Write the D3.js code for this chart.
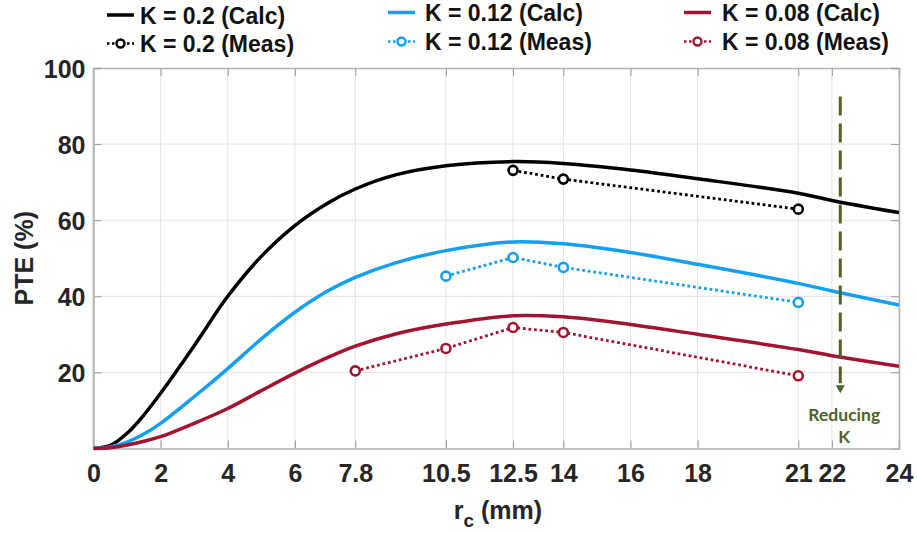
<!DOCTYPE html>
<html>
<head>
<meta charset="utf-8">
<script src="https://cdn.jsdelivr.net/npm/d3@7"></script>
<style>
html,body{margin:0;padding:0;background:#fff;}
svg{display:block;font-family:"Liberation Sans",Arial,sans-serif;}
</style>
</head>
<body>
<svg id="chart" width="917" height="533"></svg>
<script>
// ---- data ----
const xCalc = [0,0.5,1,1.5,2,3,4,5,6,7,7.8,9,10.5,12.5,14,16,18,21,22,24];
const calcK020 = [0,0.8,4,8.8,14.5,27,40,50.5,58.6,64.6,68.2,71.9,74.3,75.4,74.9,73.2,70.9,67.1,65.2,62];
const calcK012 = [0,0.4,1.7,3.8,6.6,13.6,21,28.8,35.8,41.5,45,48.8,52,54.3,53.8,51.5,48.4,43.4,41.4,37.7];
const calcK008 = [0,0.2,0.9,1.9,3.1,6.6,10.5,15.2,19.8,24,26.9,30.1,32.7,34.9,34.6,32.6,30,26,24.4,21.6];

const xMeasK020 = [12.5,14,21];
const measK020 = [73.1,70.8,62.9];
const xMeasK012 = [10.5,12.5,14,21];
const measK012 = [45.3,50.2,47.6,38.4];
const xMeasK008 = [7.8,10.5,12.5,14,21];
const measK008 = [20.4,26.3,31.8,30.5,19.1];

const xTicks = [0,2,4,6,7.8,10.5,12.5,14,16,18,21,22,24];
const yTicks = [20,40,60,80,100];
const legendLabels = ["K = 0.2 (Calc)","K = 0.2 (Meas)","K = 0.12 (Calc)","K = 0.12 (Meas)","K = 0.08 (Calc)","K = 0.08 (Meas)"];
const arrowX = 22.25, arrowTop = 92.5, arrowBottom = 14.5;

// ---- layout ----
const svg = d3.select("#chart");
const L = 93.5, R = 899, T = 68, B = 448.5;
const x = d3.scaleLinear().domain([0,24]).range([L,R]);
const y = d3.scaleLinear().domain([0,100]).range([B,T]);

const colBlack = "#000000", colBlue = "#14a0f0", colRed = "#a2142f", colOlive = "#4f6228";
const textCol = "#262626", axisCol = "#b3b3b3";

// grid
const g = svg.append("g");
g.selectAll(".vg").data(xTicks).enter().append("line")
  .attr("x1",d=>x(d)).attr("x2",d=>x(d)).attr("y1",T).attr("y2",B)
  .attr("stroke","#e3e3e3").attr("stroke-width",1);
g.selectAll(".hg").data(yTicks.filter(d=>d<100)).enter().append("line")
  .attr("x1",L).attr("x2",R).attr("y1",d=>y(d)).attr("y2",d=>y(d))
  .attr("stroke","#e3e3e3").attr("stroke-width",1);

// axes with inward ticks
const xAxisB = d3.axisBottom(x).tickValues(xTicks).tickSize(-8).tickPadding(16).tickFormat(d=>String(d));
const xAxisT = d3.axisTop(x).tickValues(xTicks).tickSize(-8).tickFormat("");
const yAxisL = d3.axisLeft(y).tickValues(yTicks).tickSize(-8).tickPadding(8).tickFormat(d=>String(d));
const yAxisR = d3.axisRight(y).tickValues(yTicks).tickSize(-8).tickFormat("");

function styleAxis(sel){
  sel.select(".domain").attr("stroke",axisCol).attr("stroke-width",1.5);
  sel.selectAll(".tick line").attr("stroke","#9a9a9a").attr("stroke-width",1);
  sel.selectAll(".tick text").attr("fill",textCol).attr("font-size",25).attr("font-weight","bold")
    .attr("font-family","'Liberation Sans',Arial,sans-serif");
}
svg.append("g").attr("transform",`translate(0,${B})`).call(xAxisB).call(styleAxis);
svg.append("g").attr("transform",`translate(0,${T})`).call(xAxisT).call(styleAxis);
const yl = svg.append("g").attr("transform",`translate(${L},0)`).call(yAxisL).call(styleAxis);
yl.selectAll(".tick text").attr("dy","0.36em");
svg.append("g").attr("transform",`translate(${R},0)`).call(yAxisR).call(styleAxis);
svg.append("line").attr("x1",L).attr("x2",L).attr("y1",T).attr("y2",B).attr("stroke","#bdbdbd").attr("stroke-width",2);

// axis titles
const xt = svg.append("text").attr("x",x(12.05)).attr("y",519).attr("text-anchor","middle")
  .attr("font-size",25).attr("font-weight","bold").attr("fill",textCol);
xt.append("tspan").text("r");
xt.append("tspan").attr("font-size",19).attr("dy",8).text("c");
xt.append("tspan").attr("dy",-8).text(" (mm)");
svg.append("text").attr("transform",`translate(33,${y(50)}) rotate(-90)`).attr("text-anchor","middle")
  .attr("font-size",25).attr("font-weight","bold").attr("fill",textCol).text("PTE (%)");

// curves
const line = d3.line().x(d=>x(d[0])).y(d=>y(d[1])).curve(d3.curveCatmullRom.alpha(0.5));
svg.append("clipPath").attr("id","clip").append("rect").attr("x",L).attr("y",T-2).attr("width",R-L).attr("height",B-T+4);
const plot = svg.append("g").attr("clip-path","url(#clip)");
const calcSeries = [[calcK020,colBlack],[calcK012,colBlue],[calcK008,colRed]];
calcSeries.forEach(([vals,c])=>{
  plot.append("path").datum(xCalc.map((xx,i)=>[xx,vals[i]]))
    .attr("d",line).attr("fill","none").attr("stroke",c).attr("stroke-width",3.5);
});

const mline = d3.line().x(d=>x(d[0])).y(d=>y(d[1]));
const measSeries = [[xMeasK020,measK020,colBlack],[xMeasK012,measK012,colBlue],[xMeasK008,measK008,colRed]];
measSeries.forEach(([xs,vals,c])=>{
  const pts = xs.map((xx,i)=>[xx,vals[i]]);
  svg.append("path").datum(pts).attr("d",mline).attr("fill","none").attr("stroke",c)
    .attr("stroke-width",2.8).attr("stroke-dasharray","2.8,2.8");
  svg.selectAll(null).data(pts).enter().append("circle")
    .attr("cx",d=>x(d[0])).attr("cy",d=>y(d[1])).attr("r",4.5)
    .attr("fill","#fff").attr("stroke",c).attr("stroke-width",2.6);
});

// annotation arrow
svg.append("line").attr("x1",x(arrowX)).attr("x2",x(arrowX)).attr("y1",y(arrowTop)).attr("y2",y(arrowBottom)-10)
  .attr("stroke",colOlive).attr("stroke-width",3).attr("stroke-dasharray","19,8");
const ax = x(arrowX), ay = y(arrowBottom);
svg.append("path").attr("d",`M${ax-4.5},${ay-8}L${ax+4.5},${ay-8}L${ax},${ay}Z`).attr("fill",colOlive);
svg.append("text").attr("x",ax+4).attr("y",421).attr("text-anchor","middle").attr("font-family","Lato,'Open Sans',sans-serif")
  .attr("font-weight","bold").attr("font-size",17.5).attr("fill",colOlive).text("Reducing");
svg.append("text").attr("x",ax+4).attr("y",443).attr("text-anchor","middle").attr("font-family","Lato,'Open Sans',sans-serif")
  .attr("font-weight","bold").attr("font-size",17.5).attr("fill",colOlive).text("K");

// legend
const legendCols = [
  {lx:107, tx:140, y1:15, y2:43.5, c:colBlack},
  {lx:388, tx:425, y1:12.5, y2:41.5, c:colBlue},
  {lx:684, tx:722, y1:12.5, y2:41.5, c:colRed}
];
const leg = svg.append("g");
legendCols.forEach((col,i)=>{
  leg.append("line").attr("x1",col.lx).attr("x2",col.lx+27).attr("y1",col.y1).attr("y2",col.y1)
    .attr("stroke",col.c).attr("stroke-width",3.5);
  leg.append("text").attr("x",col.tx).attr("y",col.y1+8.5).attr("font-size",23).attr("font-weight","bold")
    .attr("fill","#111").text(legendLabels[i*2]);
  leg.append("line").attr("x1",col.lx).attr("x2",col.lx+27).attr("y1",col.y2).attr("y2",col.y2)
    .attr("stroke",col.c).attr("stroke-width",2.5).attr("stroke-dasharray","2.5,2.5");
  leg.append("circle").attr("cx",col.lx+13.5).attr("cy",col.y2).attr("r",4).attr("fill","#fff")
    .attr("stroke",col.c).attr("stroke-width",2.4);
  leg.append("text").attr("x",col.tx).attr("y",col.y2+8.5).attr("font-size",23).attr("font-weight","bold")
    .attr("fill","#111").text(legendLabels[i*2+1]);
});
</script>
</body>
</html>
